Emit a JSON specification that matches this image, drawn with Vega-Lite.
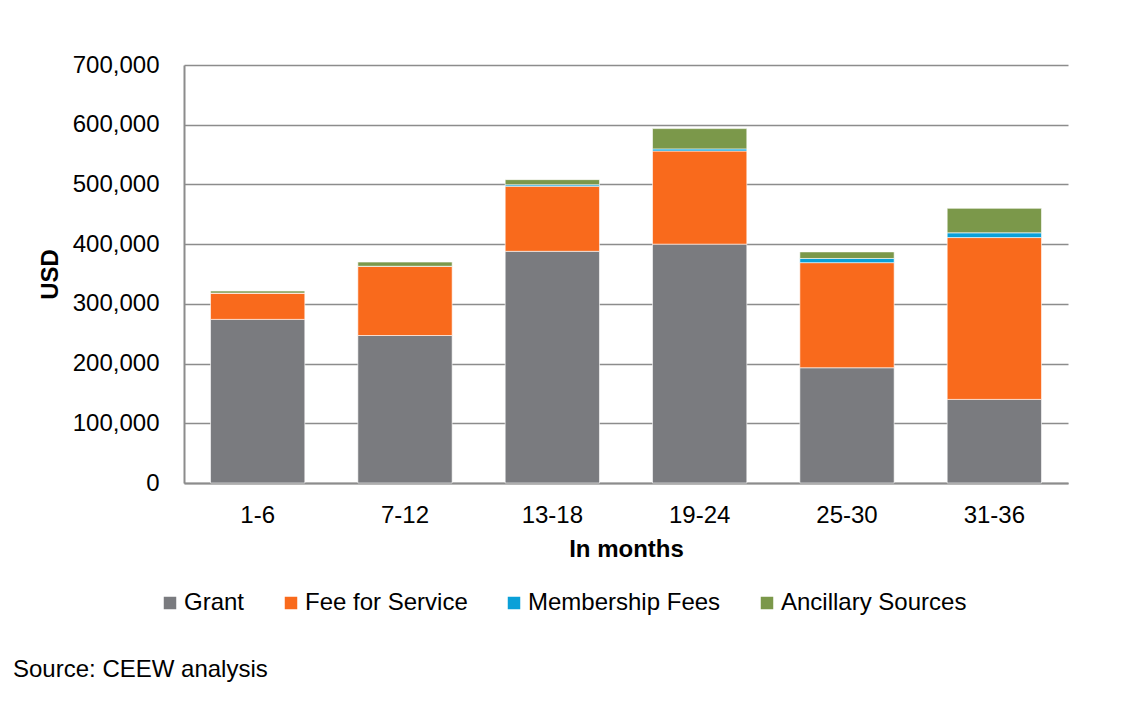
{
  "$schema": "https://vega.github.io/schema/vega-lite/v6.json",
  "width": 884,
  "height": 418,
  "autosize": {"type": "none"},
  "padding": {"left": 184, "top": 65, "right": 56, "bottom": 221},
  "background": "white",
  "config": {
    "font": "Liberation Sans",
    "view": {"stroke": null},
    "axis": {"labelFont": "Liberation Sans", "titleFont": "Liberation Sans", "labelColor": "#000000", "titleColor": "#000000"},
    "legend": {"labelFont": "Liberation Sans"}
  },
  "title": {
    "text": "Source: CEEW analysis",
    "orient": "bottom",
    "anchor": "start",
    "frame": "group",
    "dx": -171,
    "offset": 43,
    "font": "Liberation Sans",
    "fontSize": 24,
    "fontStyle": "normal",
    "fontWeight": "normal",
    "color": "#000000"
  },
  "data": {
    "values": [
      {"period": "1-6", "source": "Grant", "ord": 1, "value": 274000},
      {"period": "1-6", "source": "Fee for Service", "ord": 2, "value": 44000},
      {"period": "1-6", "source": "Membership Fees", "ord": 3, "value": 0},
      {"period": "1-6", "source": "Ancillary Sources", "ord": 4, "value": 3500},
      {"period": "7-12", "source": "Grant", "ord": 1, "value": 247000},
      {"period": "7-12", "source": "Fee for Service", "ord": 2, "value": 116000},
      {"period": "7-12", "source": "Membership Fees", "ord": 3, "value": 0},
      {"period": "7-12", "source": "Ancillary Sources", "ord": 4, "value": 7000},
      {"period": "13-18", "source": "Grant", "ord": 1, "value": 388000},
      {"period": "13-18", "source": "Fee for Service", "ord": 2, "value": 109000},
      {"period": "13-18", "source": "Membership Fees", "ord": 3, "value": 2500},
      {"period": "13-18", "source": "Ancillary Sources", "ord": 4, "value": 8500},
      {"period": "19-24", "source": "Grant", "ord": 1, "value": 400000},
      {"period": "19-24", "source": "Fee for Service", "ord": 2, "value": 156000},
      {"period": "19-24", "source": "Membership Fees", "ord": 3, "value": 3500},
      {"period": "19-24", "source": "Ancillary Sources", "ord": 4, "value": 34000},
      {"period": "25-30", "source": "Grant", "ord": 1, "value": 193000},
      {"period": "25-30", "source": "Fee for Service", "ord": 2, "value": 176000},
      {"period": "25-30", "source": "Membership Fees", "ord": 3, "value": 7000},
      {"period": "25-30", "source": "Ancillary Sources", "ord": 4, "value": 11000},
      {"period": "31-36", "source": "Grant", "ord": 1, "value": 140000},
      {"period": "31-36", "source": "Fee for Service", "ord": 2, "value": 271000},
      {"period": "31-36", "source": "Membership Fees", "ord": 3, "value": 8000},
      {"period": "31-36", "source": "Ancillary Sources", "ord": 4, "value": 41000}
    ]
  },
  "mark": {"type": "bar", "stroke": "#ffffff", "strokeWidth": 0.6},
  "encoding": {
    "x": {
      "field": "period",
      "type": "nominal",
      "sort": ["1-6", "7-12", "13-18", "19-24", "25-30", "31-36"],
      "scale": {"paddingInner": 0.36, "paddingOuter": 0.18},
      "axis": {
        "title": "In months",
        "labelAngle": 0,
        "labelFontSize": 24,
        "labelPadding": 20,
        "titleFontSize": 24,
        "titleFontWeight": "bold",
        "titlePadding": 10,
        "ticks": false,
        "domainColor": "#8c8c8c",
        "domainWidth": 2,
        "grid": false
      }
    },
    "y": {
      "field": "value",
      "type": "quantitative",
      "stack": "zero",
      "scale": {"domain": [0, 700000], "nice": false},
      "axis": {
        "title": "USD",
        "values": [0, 100000, 200000, 300000, 400000, 500000, 600000, 700000],
        "format": ",.0f",
        "labelFontSize": 24,
        "labelPadding": 25,
        "titleFontSize": 24,
        "titleFontWeight": "bold",
        "titlePadding": 10,
        "ticks": false,
        "domainColor": "#8c8c8c",
        "domainWidth": 2,
        "gridColor": "#8c8c8c",
        "gridWidth": 1.6
      }
    },
    "color": {
      "field": "source",
      "type": "nominal",
      "scale": {
        "domain": ["Grant", "Fee for Service", "Membership Fees", "Ancillary Sources"],
        "range": ["#7a7b7f", "#f96a1c", "#0aa0d8", "#7b984a"]
      },
      "legend": {
        "title": null,
        "orient": "none",
        "direction": "horizontal",
        "legendX": -26,
        "legendY": 526,
        "symbolType": "square",
        "symbolSize": 156,
        "symbolStrokeWidth": 0,
        "labelFontSize": 24,
        "labelColor": "#000000",
        "labelLimit": 400,
        "labelOffset": 2,
        "columnPadding": 34
      }
    },
    "order": {"field": "ord", "type": "quantitative"}
  }
}
